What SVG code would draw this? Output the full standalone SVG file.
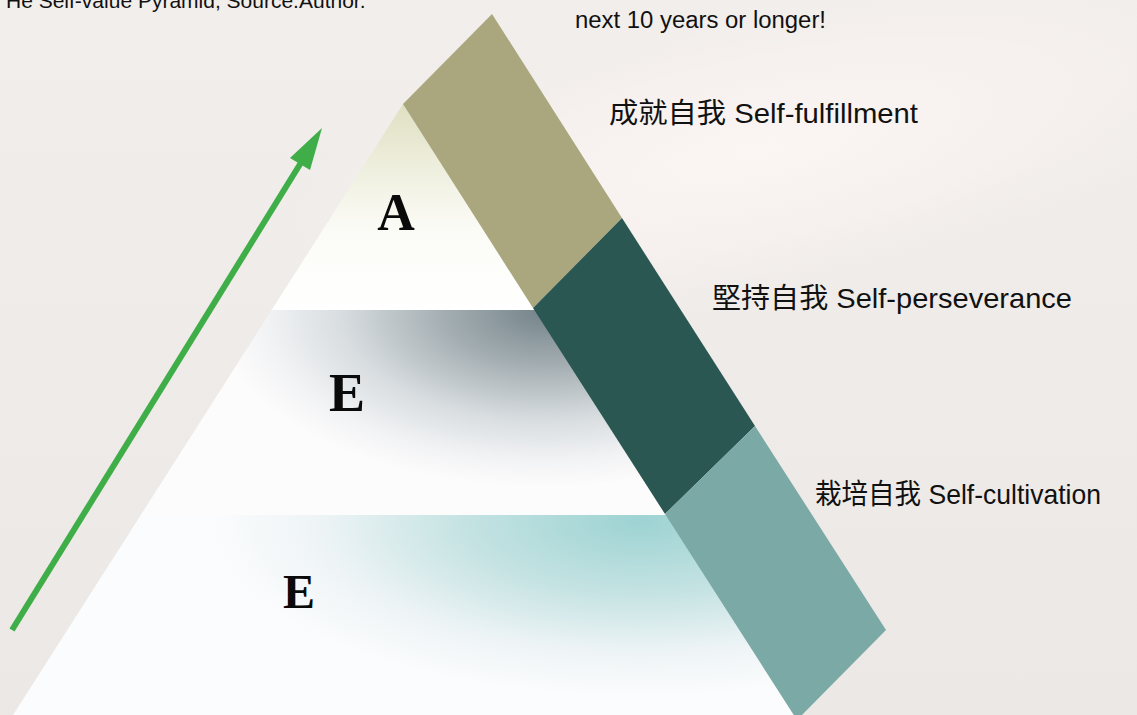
<svg xmlns="http://www.w3.org/2000/svg" width="1137" height="715" viewBox="0 0 1137 715">
  <defs>
    <linearGradient id="bgTop" x1="0" y1="0" x2="0" y2="1">
      <stop offset="0" stop-color="#f1eeec"/>
      <stop offset="1" stop-color="#ece8e5"/>
    </linearGradient>
    <radialGradient id="glow" gradientUnits="userSpaceOnUse" cx="0" cy="0" r="1" gradientTransform="translate(760 150) rotate(-12) scale(520 150)">
      <stop offset="0" stop-color="#fbf5f3"/>
      <stop offset="0.6" stop-color="#f7f1ef" stop-opacity="0.8"/>
      <stop offset="1" stop-color="#f3efec" stop-opacity="0"/>
    </radialGradient>
    <linearGradient id="t1" gradientUnits="userSpaceOnUse" x1="0" y1="104" x2="0" y2="310">
      <stop offset="0" stop-color="#dfe0c2"/>
      <stop offset="0.3" stop-color="#eeeedd"/>
      <stop offset="0.6" stop-color="#fbfbf6"/>
      <stop offset="1" stop-color="#ffffff"/>
    </linearGradient>
    <radialGradient id="t2" gradientUnits="userSpaceOnUse" cx="0" cy="0" r="1" gradientTransform="translate(545 312) scale(330 175)">
      <stop offset="0" stop-color="#74848a"/>
      <stop offset="0.3" stop-color="#a3adb1"/>
      <stop offset="0.62" stop-color="#d8dde0"/>
      <stop offset="0.85" stop-color="#f2f3f5"/>
      <stop offset="1" stop-color="#fdfcfc"/>
    </radialGradient>
    <radialGradient id="t3" gradientUnits="userSpaceOnUse" cx="0" cy="0" r="1" gradientTransform="translate(640 522) scale(430 175)">
      <stop offset="0" stop-color="#9ed3d3"/>
      <stop offset="0.4" stop-color="#c4e2e2"/>
      <stop offset="0.75" stop-color="#eef4f6"/>
      <stop offset="1" stop-color="#fbfcfd"/>
    </radialGradient>
    <style>
      .lbl { font-family: "Liberation Sans", "Noto Sans CJK TC", sans-serif; font-size: 28px; fill: #111; }
      .note { font-family: "Liberation Sans", Arial, sans-serif; fill: #111; }
      .tier { font-family: "Liberation Serif", "Times New Roman", serif; font-weight: bold; fill: #0a0a0a; text-anchor: middle; }
    </style>
  </defs>

  <g id="background">
    <rect x="0" y="0" width="1137" height="715" fill="url(#bgTop)"/>
    <rect x="0" y="0" width="1137" height="715" fill="url(#glow)"/>
  </g>

  <g id="pyramid">
    <g id="tier-top">
      <polygon points="403,104 540,104 540,310 271.6,310" fill="url(#t1)"/>
      <text class="tier" x="396" y="230" font-size="52">A</text>
    </g>
    <g id="tier-middle">
      <polygon points="271.6,310 600,310 680,515 140.8,515" fill="url(#t2)"/>
      <text class="tier" x="347" y="411" font-size="54">E</text>
    </g>
    <g id="tier-bottom">
      <polygon points="140.8,515 680,515 800,715 13,715" fill="url(#t3)"/>
      <text class="tier" x="299" y="608" font-size="48">E</text>
    </g>
  </g>

  <g id="band">
    <g id="band-fulfillment">
      <polygon points="492,14 622,218 533,308 403,104" fill="#aaa77f"/>
      <text class="lbl" x="609" y="123" textLength="309" lengthAdjust="spacingAndGlyphs">成就自我 Self-fulfillment</text>
    </g>
    <g id="band-perseverance">
      <polygon points="622,218 755,426 665,514 533,308" fill="#2b5753"/>
      <text class="lbl" x="712" y="308" textLength="360" lengthAdjust="spacingAndGlyphs">堅持自我 Self-perseverance</text>
    </g>
    <g id="band-cultivation">
      <polygon points="755,426 886,630 797,720 665,514" fill="#7ba9a6"/>
      <text class="lbl" x="815" y="504" textLength="286" lengthAdjust="spacingAndGlyphs">栽培自我 Self-cultivation</text>
    </g>
  </g>

  <g id="notes">
    <text class="note" x="6" y="8" font-size="21">He Self-value Pyramid, Source.Author.</text>
    <text class="note" x="575" y="28" font-size="23" textLength="251" lengthAdjust="spacingAndGlyphs">next 10 years or longer!</text>
  </g>

  <g id="connectors">
    <line x1="12" y1="630" x2="302" y2="161" stroke="#3fae49" stroke-width="6"/>
    <polygon points="322,128 310,170 290,158" fill="#3fae49"/>
  </g>
</svg>
